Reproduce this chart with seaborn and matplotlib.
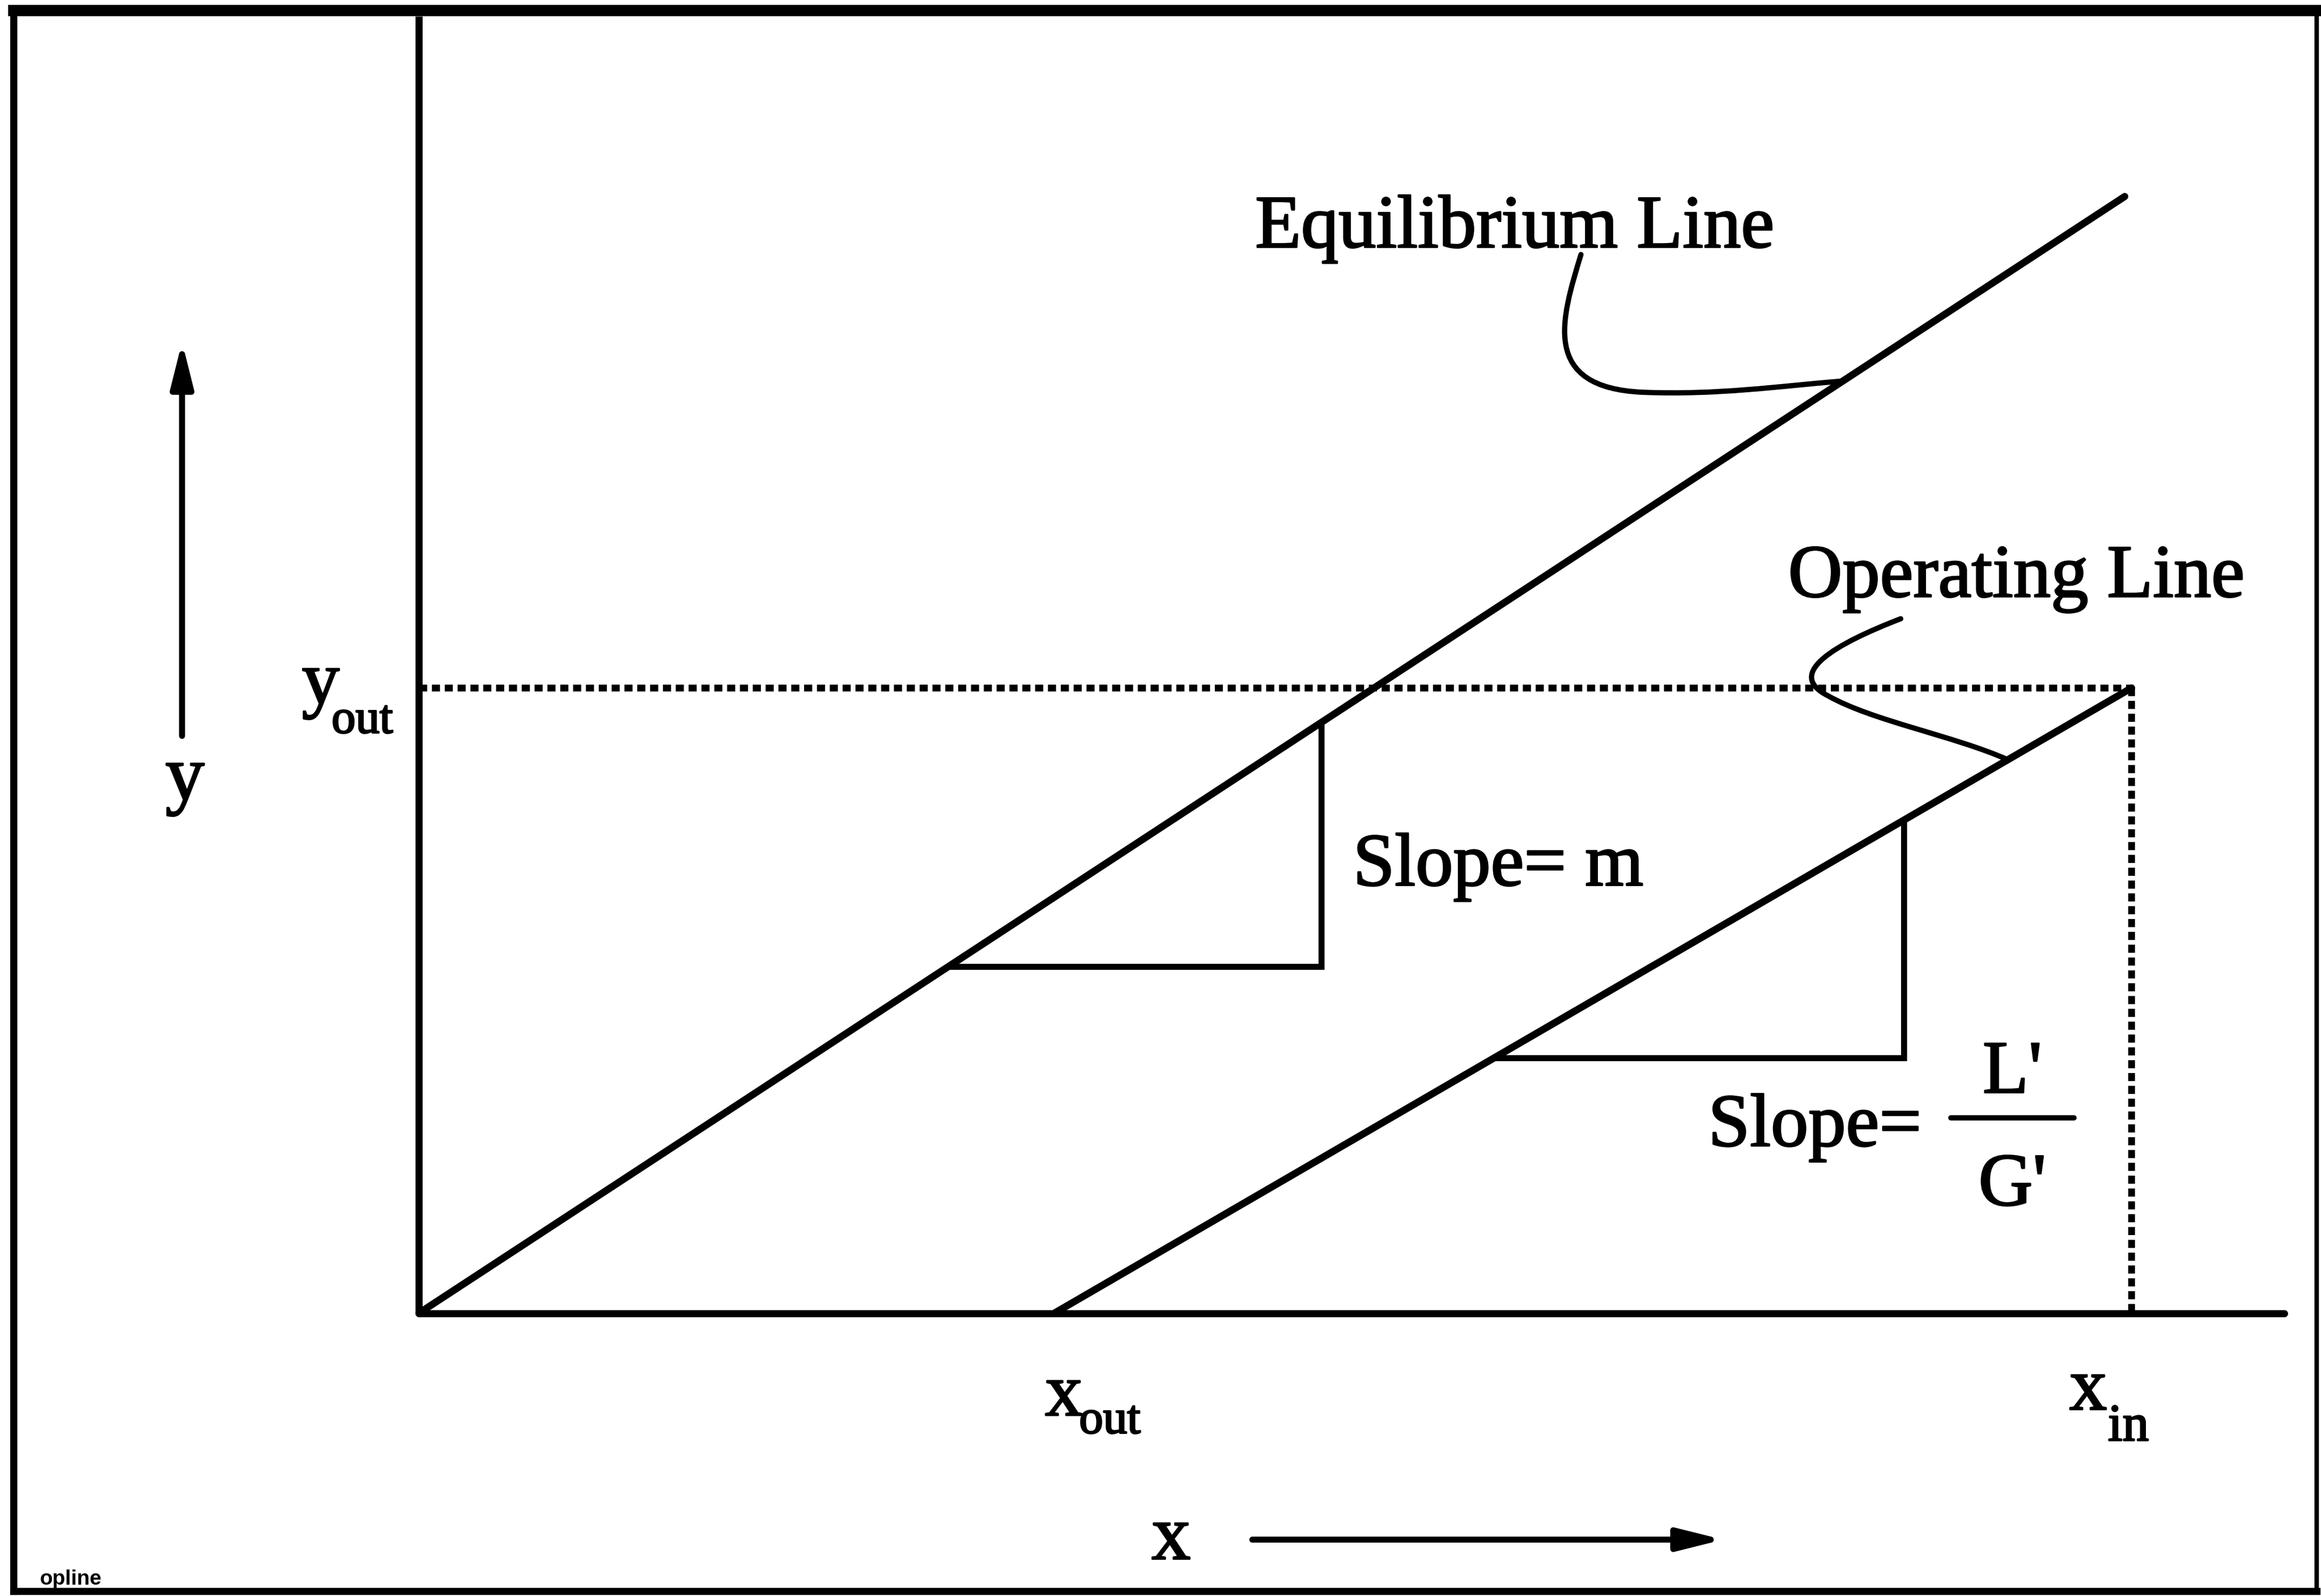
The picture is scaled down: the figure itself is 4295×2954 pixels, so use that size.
import matplotlib
matplotlib.use("Agg")
import matplotlib.pyplot as plt
from matplotlib.path import Path
from matplotlib.patches import PathPatch
from matplotlib.lines import Line2D
import matplotlib.patheffects as pe
import numpy as np
import pandas as pd
import seaborn as sns

# ---- diagram values (composition units, x_in = 1) ----
x_in = 1.0
x_out = 0.371
y_out = 0.365
m_slope = 0.6545                 # equilibrium line slope
eq_x_end = 0.996                 # right end of equilibrium line
x_axis_end = 1.089
y_axis_top = 0.757

# slope triangles: x-range along each line
tri_eq_x = [0.309, 0.527]
tri_op_x = [0.628, 0.867]

# leader curves (Bezier control points)
eq_leader = [(0.6785, 0.6180), (0.6672, 0.5808), (0.6543, 0.5402), (0.7148, 0.5376),
             (0.7580, 0.5359), (0.7926, 0.5410), (0.8315, 0.5442)]
op_leader = [(0.8652, 0.4054), (0.8271, 0.3907), (0.7969, 0.3734), (0.8228, 0.3604),
             (0.8487, 0.3457), (0.8963, 0.3371), (0.9280, 0.3230)]

labels = {
    "eq": ("Equilibrium Line", 0.4883, 0.6223),
    "op": ("Operating Line", 0.7995, 0.4183),
    "slope_m": ("Slope= m", 0.5454, 0.2498),
    "slope_lg": ("Slope=", 0.7528, 0.0977),
}

sns.set_theme(style="white")
plt.rcParams["font.family"] = ["Liberation Serif", "DejaVu Serif"]

W, H = 4295, 2954
fig = plt.figure(figsize=(W / 100, H / 100), dpi=100)
fig.patch.set_facecolor("white")
ax = fig.add_axes([0, 0, 1, 1])
ax.set_xlim(-0.2446, 1.1106)
ax.set_ylim(-0.1651, 0.7666)
ax.axis("off")

K = "black"
LW = 9.5
heavy = [pe.withStroke(linewidth=2.2, foreground=K)]

# axes of the diagram
ax.plot([0, 0], [0, y_axis_top], color=K, lw=LW, solid_capstyle="butt")
ax.plot([0, x_axis_end], [0, 0], color=K, lw=LW, solid_capstyle="round")

# equilibrium and operating lines
eq_df = pd.DataFrame({"x": [0.0, eq_x_end], "y": [0.0, m_slope * eq_x_end]})
op_df = pd.DataFrame({"x": [x_out, x_in], "y": [0.0, y_out]})
op_slope = y_out / (x_in - x_out)
sns.lineplot(data=eq_df, x="x", y="y", ax=ax, color=K, lw=LW, sort=False,
             estimator=None)
sns.lineplot(data=op_df, x="x", y="y", ax=ax, color=K, lw=LW, sort=False,
             estimator=None)

# slope triangles
def eq_line(x):
    return m_slope * x

def op_line(x):
    return op_slope * (x - x_out)

for xs, f in ((tri_eq_x, eq_line), (tri_op_x, op_line)):
    x0, x1 = xs
    ax.plot([x0, x1, x1], [f(x0), f(x0), f(x1)], color=K, lw=LW * 0.85,
            solid_joinstyle="miter")

# dotted guides at y_out and x_in
dot = (0, (1.2, 0.7))
ax.plot([0, x_in], [y_out, y_out], color=K, lw=9, linestyle=dot)
ax.plot([x_in, x_in], [y_out, 0], color=K, lw=9, linestyle=dot)

# leader curves
def leader(pts):
    codes = [Path.MOVETO] + [Path.CURVE4] * (len(pts) - 1)
    ax.add_patch(PathPatch(Path(pts, codes), fill=False, lw=7, color=K,
                           capstyle="round"))

leader(eq_leader)
leader(op_leader)

FS = 100
def put(x, y, s, size=FS, ha="left"):
    t = ax.text(x, y, s, fontsize=size, ha=ha, va="baseline", color=K)
    t.set_path_effects(heavy)
    return t

for key, (txt, tx, ty) in labels.items():
    put(tx, ty, txt)

# L'/G' fraction
put(0.9304, 0.1288, "L'", ha="center")
put(0.9304, 0.0631, "G'", ha="center")
ax.plot([0.8946, 0.9663], [0.1141, 0.1141], color=K, lw=7, solid_capstyle="round")

# subscripted axis values
SUB = 64
put(0.3656, -0.0596, "x")
put(0.3855, -0.0700, "out", SUB)
put(0.9637, -0.0562, "x")
put(0.9862, -0.0743, "in", 70)
put(-0.0683, 0.3561, "y")
put(-0.0510, 0.3388, "out", SUB)

# axis names with direction arrows
put(-0.1366, 0.300, "y", FS + 4, ha="center")
put(0.4278, -0.1435, "x", FS + 4)
arrow = dict(arrowstyle="-|>,head_length=2.0,head_width=0.5", mutation_scale=25,
             lw=8, color=K, shrinkA=0, shrinkB=0)
ax.annotate("", xy=(-0.1383, 0.567), xytext=(-0.1383, 0.337), arrowprops=arrow)
ax.annotate("", xy=(0.7615, -0.1322), xytext=(0.4866, -0.1322), arrowprops=arrow)

# outer frame
fx0, fx1, fy0, fy1 = 0.0058, 0.9981, 0.0030, 0.9935
for xs, ys, lw in (([fx0, fx0], [fy0, fy1], 9.5), ([fx1, fx1], [fy0, fy1], 6),
                   ([fx0, fx1], [fy0, fy0], 9.5), ([fx0, fx1], [fy1, fy1], 15)):
    fig.add_artist(Line2D(xs, ys, color=K, lw=lw, transform=fig.transFigure,
                          solid_capstyle="projecting"))

fig.text(0.017, 0.0071, "opline", fontsize=28, fontweight="bold",
         family=["Liberation Sans", "DejaVu Sans"], ha="left", va="baseline", color=K)

fig.savefig("out.png", dpi=100, facecolor="white")
